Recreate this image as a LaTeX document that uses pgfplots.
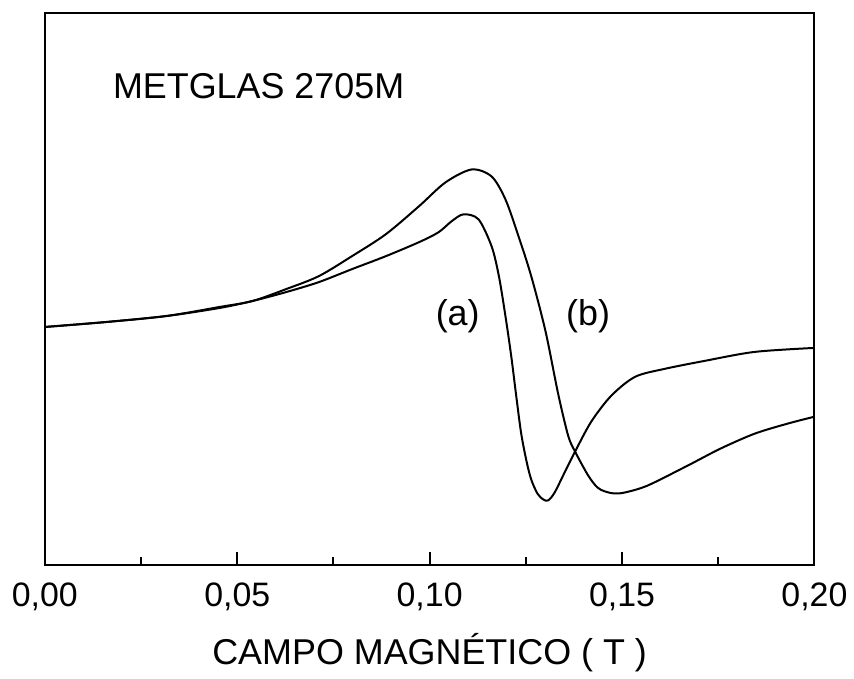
\documentclass[border=0pt]{standalone}
\usepackage{fontspec}
\setmainfont{Liberation Sans}
\usepackage{pgfplots}
\pgfplotsset{compat=1.18}
\begin{document}
\begin{tikzpicture}
\begin{axis}[
  scale only axis, width=386bp, height=277bp,
  xmin=0, xmax=0.2, ymin=0, ymax=554,
  xtick={0,0.05,0.1,0.15,0.2},
  minor xtick={0.025,0.075,0.125,0.175},
  ytick=\empty,
  xtick pos=lower,
  tick align=inside,
  major tick length=6.5bp, minor tick length=4bp,
  axis line style={line width=1bp},
  every tick/.style={line width=1bp, black},
  x tick label style={font=\fontsize{17bp}{20bp}\selectfont, anchor=base, yshift=-20.5bp,
    /pgf/number format/fixed, /pgf/number format/fixed zerofill,
    /pgf/number format/precision=2, /pgf/number format/use comma,
    /pgf/number format/assume math mode=true},
  xlabel={CAMPO MAGNÉTICO ( T )},
  xlabel style={font=\fontsize{18bp}{21bp}\selectfont, at={(axis description cs:0.5,0)}, anchor=base, yshift=-50bp},
  after end axis/.code={\path (rel axis cs:-0.0583,-0.1949) rectangle (rel axis cs:1.0479,1.0235);},
]
% curve (a)
\addplot[black, line width=1bp, smooth, tension=0.5] coordinates {
(0,239) (0.0160,244) (0.0316,250) (0.0453,258) (0.0539,265) (0.0627,274)
(0.0712,284) (0.0798,297) (0.0886,310) (0.0972,324) (0.1023,334) (0.1057,345)
(0.1088,352) (0.1127,347) (0.1161,320) (0.1180,290) (0.1197,250) (0.1212,210)
(0.1225,170) (0.1238,132) (0.1252,104) (0.1264,86) (0.1280,72) (0.1295,66)
(0.1308,65) (0.1325,73) (0.1352,94) (0.1378,114) (0.1420,144) (0.1472,170)
(0.1534,189) (0.1611,197) (0.1715,205) (0.1845,214) (0.2000,218)
};
% curve (b)
\addplot[black, line width=1bp, smooth, tension=0.5] coordinates {
(0,239) (0.0160,244) (0.0316,250) (0.0453,259) (0.0539,265) (0.0627,277)
(0.0712,290) (0.0798,310) (0.0886,332) (0.0972,360) (0.1041,384) (0.1109,397)
(0.1161,390) (0.1197,367) (0.1231,330) (0.1264,290) (0.1301,235) (0.1334,172)
(0.1360,130) (0.1378,114) (0.1412,90) (0.1436,78) (0.1456,74) (0.1480,72)
(0.1508,73) (0.1567,80) (0.1671,100) (0.1756,117) (0.1845,132) (0.1930,142)
(0.2000,149)
};
\node[anchor=base west, font=\fontsize{18bp}{21bp}\selectfont, inner sep=0pt] at (axis cs:0.01762,468) {METGLAS 2705M};
\node[font=\fontsize{18bp}{21bp}\selectfont, inner sep=0pt] at (axis cs:0.1073,250) {(a)};
\node[font=\fontsize{18bp}{21bp}\selectfont, inner sep=0pt] at (axis cs:0.1412,250) {(b)};
\end{axis}
\end{tikzpicture}
\end{document}
